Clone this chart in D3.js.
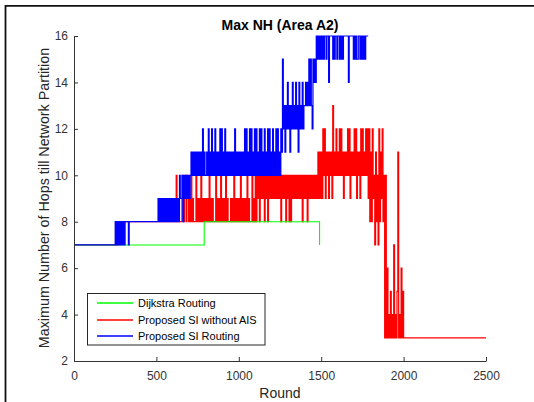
<!DOCTYPE html>
<html><head><meta charset="utf-8">
<script src="https://cdn.jsdelivr.net/npm/d3@7"></script>
<style>
html,body{margin:0;padding:0;background:#fff;}
svg{display:block;font-family:Arial,"Liberation Sans",sans-serif;}
</style></head><body>
<svg id="chart" width="534" height="402"></svg>
<script>
// ---------- data ----------
const chartTitle = "Max NH (Area A2)";
const xLabel = "Round";
const yLabel = "Maximum Number of Hops till Network Partition";
const xTicks = [0, 500, 1000, 1500, 2000, 2500];
const yTicks = [2, 4, 6, 8, 10, 12, 14, 16];
const seriesNames = ["Dijkstra Routing", "Proposed SI without AIS", "Proposed SI Routing"];
const seriesColors = ["#00ff00", "#ff0000", "#0000ff"];

// Dijkstra routing: change points (round, hops)
const dijkstraRounds = [0, 790, 1490];
const dijkstraHops = [7, 8, 7];

// Sampled series: each string = 100 rounds, one char per 5 rounds
// chars: digits = hops, a=10, b=11, c=12, d=13, e=14, f=15, g=16
const sampleStep = 5;
const blockRounds = 100;
const blueHops = [
  "77777777777777777777", // 0
  "77777777777777777777", // 100
  "77777777778787878787", // 200
  "87888878888888888888", // 300
  "88888888888888888888", // 400
  "88989898989898989898", // 500
  "98989898a99a8a9a9a9a", // 600
  "9abababababababacaba", // 700
  "abacabacabacababacac", // 800
  "abacabababababacabab", // 900
  "abababacacabacacabac", // 1000
  "acabacacabacabacacab", // 1100
  "acabacacabacbfcdbdce", // 1200
  "cdbdcecdcecdbecdcecd", // 1300
  "dededfdfdcfefegfgfgf", // 1400
  "gfgfggfggeggggfgfggf", // 1500
  "ggfgfgfggggggegggggf", // 1600
  "gfgffggfgfgfgfggg"     // 1700
];
const blueEndRound = 1785;

const redHops = [
  "77777777777777777777", // 0
  "77777777777777777777", // 100
  "77777777777777888888", // 200
  "88888888888888888888", // 300
  "88888888888888888888", // 400
  "88888888888888888888", // 500
  "8888a8888889a89a8a98", // 600
  "98a89888a89898a89898", // 700
  "9898a8989888a89898a8", // 800
  "9898a898889898a89898", // 900
  "98a8989898a89888a898", // 1000
  "a8a9a8a9a9a8a9a8a9a9", // 1100
  "a9a9a9a9a9a8a9a9a8a9", // 1200
  "a8a8a9a9a9a9a9a9a8a9", // 1300
  "a9a8a9a9a9a9a9a9b9b9", // 1400
  "b9cac9bab9bab9dabaca", // 1500
  "bacacab9babacac9baba", // 1600
  "cac9bab9cacabacac9c8", // 1700
  "b8c9a7b8a7c8b9c8a3a3", // 1800
  "6343534373435b343635"  // 1900
];
const redTailRounds = [2000, 2500];
const redTailHops = [3, 3];

// ---------- build ----------
const code = "0123456789abcdefg";
function decode(blocks) {
  const pts = [];
  blocks.forEach((s, k) => {
    for (let i = 0; i < s.length; i++) {
      pts.push([k * blockRounds + i * sampleStep, code.indexOf(s[i])]);
    }
  });
  return pts;
}
const greenPts = dijkstraRounds.map((r, i) => [r, dijkstraHops[i]]);
const redPts = decode(redHops).concat(redTailRounds.map((r, i) => [r, redTailHops[i]]));
const bluePts = decode(blueHops);
bluePts.push([blueEndRound, bluePts[bluePts.length - 1][1]]);

const svg = d3.select("#chart");
const x = d3.scaleLinear().domain([0, 2500]).range([74, 486]);
const y = d3.scaleLinear().domain([2, 16]).range([361, 36]);

// figure border (partially cropped)
svg.append("path")
  .attr("d", "M5.5,402 L5.5,5.8 L534,5.8")
  .attr("fill", "none").attr("stroke", "#111").attr("stroke-width", 1.8);

const line = d3.line().x(d => x(d[0])).y(d => y(d[1])).curve(d3.curveStepAfter);
const g = svg.append("g");
[[redPts, seriesColors[1], 1.2], [greenPts, seriesColors[0], 1.1], [bluePts, seriesColors[2], 1.2]].forEach(([pts, c, w]) => {
  g.append("path").attr("d", line(pts)).attr("fill", "none")
    .attr("stroke", c).attr("stroke-width", w);
});

// axes
const axisColor = "#333";
const xa = svg.append("g").attr("transform", "translate(0,361)")
  .call(d3.axisBottom(x).tickValues(xTicks).tickSizeInner(-4).tickSizeOuter(0).tickPadding(10).tickFormat(d3.format("d")));
const ya = svg.append("g").attr("transform", "translate(74,0)")
  .call(d3.axisLeft(y).tickValues(yTicks).tickSizeInner(-4).tickSizeOuter(0).tickPadding(6));
[xa, ya].forEach(a => {
  a.select(".domain").attr("stroke", axisColor);
  a.selectAll(".tick line").attr("stroke", axisColor);
  a.selectAll(".tick text").attr("fill", "#333").style("font-size", "12px")
    .style("font-family", "Arial, 'Liberation Sans', sans-serif");
});

// title & labels
svg.append("text").attr("x", 280).attr("y", 30).attr("text-anchor", "middle")
  .style("font-size", "14px").style("font-weight", "bold").attr("fill", "#000").text(chartTitle);
svg.append("text").attr("x", 280).attr("y", 398).attr("text-anchor", "middle")
  .style("font-size", "14px").attr("fill", "#262626").text(xLabel);
svg.append("text").attr("transform", "translate(49,198) rotate(-90)").attr("text-anchor", "middle")
  .style("font-size", "14.3px").attr("fill", "#262626").text(yLabel);

// legend
const lg = svg.append("g");
lg.append("rect").attr("x", 87.5).attr("y", 293.5).attr("width", 177.5).attr("height", 51.5)
  .attr("fill", "#fff").attr("stroke", "#262626").attr("stroke-width", 1);
const rowY = [303, 319.5, 336];
seriesNames.forEach((n, i) => {
  lg.append("line").attr("x1", 97).attr("x2", 133).attr("y1", Math.round(rowY[i])).attr("y2", Math.round(rowY[i]))
    .attr("stroke", seriesColors[i]).attr("stroke-width", 1.3);
  lg.append("text").attr("x", 138).attr("y", rowY[i] + 4).style("font-size", "11px")
    .attr("fill", "#000").text(n);
});
</script>
</body></html>
